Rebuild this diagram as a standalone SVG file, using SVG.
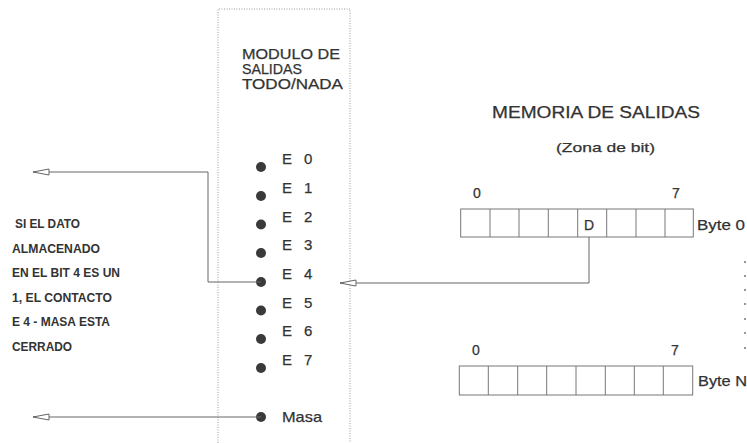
<svg xmlns="http://www.w3.org/2000/svg" width="747" height="443" viewBox="0 0 747 443">
<style>
text{font-family:"Liberation Sans",Arial,sans-serif;fill:#333;stroke:#333;stroke-width:0.25}
.note{font-size:12px;font-weight:bold;stroke:none}
.mod{font-size:14px}
.lbl{font-size:14px}
.e{font-size:15px}
.cell{fill:none;stroke:#777;stroke-width:1}
.wire{fill:none;stroke:#666;stroke-width:1}
.dot{fill:#3a3a3a}
</style>
<defs>
<marker id="arr" viewBox="0 0 18 8" refX="17" refY="4" markerWidth="18" markerHeight="8" markerUnits="userSpaceOnUse" orient="auto">
<path d="M1,1 L17,4 L1,7 Z" fill="#fff" stroke="#666" stroke-width="1"/>
</marker>
</defs>
<rect width="747" height="443" fill="#fff"/>

<g id="modulo">
<path d="M218,443 V9 H350 V443" fill="none" stroke="#999" stroke-width="1" stroke-dasharray="1,1.5"/>
<text class="mod" x="242" y="59" textLength="98" lengthAdjust="spacingAndGlyphs">MODULO  DE</text>
<text class="mod" x="242" y="74" textLength="60" lengthAdjust="spacingAndGlyphs">SALIDAS</text>
<text class="mod" x="242" y="89" textLength="101" lengthAdjust="spacingAndGlyphs">TODO/NADA</text>
</g>

<g id="salidas">
<circle class="dot" cx="261" cy="167" r="5"/><text class="e" x="282" y="164">E<tspan x="304">0</tspan></text>
<circle class="dot" cx="261" cy="196" r="5"/><text class="e" x="282" y="193">E<tspan x="304">1</tspan></text>
<circle class="dot" cx="261" cy="224.5" r="5"/><text class="e" x="282" y="221.5">E<tspan x="304">2</tspan></text>
<circle class="dot" cx="261" cy="253" r="5"/><text class="e" x="282" y="250">E<tspan x="304">3</tspan></text>
<circle class="dot" cx="261" cy="282" r="5"/><text class="e" x="282" y="279">E<tspan x="304">4</tspan></text>
<circle class="dot" cx="261" cy="310.5" r="5"/><text class="e" x="282" y="307.5">E<tspan x="304">5</tspan></text>
<circle class="dot" cx="261" cy="339" r="5"/><text class="e" x="282" y="336">E<tspan x="304">6</tspan></text>
<circle class="dot" cx="261" cy="368" r="5"/><text class="e" x="282" y="365">E<tspan x="304">7</tspan></text>
<circle class="dot" cx="261" cy="417" r="5"/><text class="e" x="282" y="422" textLength="40" lengthAdjust="spacingAndGlyphs">Masa</text>
</g>

<g id="nota">
<text class="note" x="15" y="228" textLength="65" lengthAdjust="spacingAndGlyphs">SI EL DATO</text>
<text class="note" x="12" y="252.5" textLength="88" lengthAdjust="spacingAndGlyphs">ALMACENADO</text>
<text class="note" x="12" y="277" textLength="108" lengthAdjust="spacingAndGlyphs">EN EL BIT 4 ES UN</text>
<text class="note" x="12" y="301.5" textLength="100" lengthAdjust="spacingAndGlyphs">1, EL CONTACTO</text>
<text class="note" x="12" y="326" textLength="98" lengthAdjust="spacingAndGlyphs">E 4 - MASA ESTA</text>
<text class="note" x="12" y="350.5" textLength="60" lengthAdjust="spacingAndGlyphs">CERRADO</text>
</g>

<g id="memoria">
<text x="492" y="118" font-size="16" textLength="208" lengthAdjust="spacingAndGlyphs">MEMORIA DE SALIDAS</text>
<text x="556" y="152" font-size="13" textLength="99" lengthAdjust="spacingAndGlyphs">(Zona de bit)</text>
</g>

<g id="byte0">
<text class="lbl" x="473" y="198">0</text>
<text class="lbl" x="672" y="198">7</text>
<rect class="cell" x="460.7" y="209" width="232.6" height="28"/>
<path class="cell" d="M490,209V237M519,209V237M548.3,209V237M577.7,209V237M606.7,209V237M636,209V237M665,209V237"/>
<text class="lbl" x="584" y="230">D</text>
<text class="lbl" x="697" y="230" textLength="48" lengthAdjust="spacingAndGlyphs">Byte 0</text>
</g>

<g id="byteN">
<text class="lbl" x="472" y="355">0</text>
<text class="lbl" x="671" y="355">7</text>
<rect class="cell" x="459.3" y="366" width="233.4" height="29"/>
<path class="cell" d="M488.3,366V395M517.7,366V395M546.7,366V395M576,366V395M605.3,366V395M634.3,366V395M663.3,366V395"/>
<text class="lbl" x="698" y="386" textLength="49" lengthAdjust="spacingAndGlyphs">Byte N</text>
</g>

<g id="continuacion" fill="#666">
<circle cx="745" cy="262" r="0.9"/>
<circle cx="745" cy="276" r="0.9"/>
<circle cx="745" cy="290" r="0.9"/>
<circle cx="745" cy="304" r="0.9"/>
<circle cx="745" cy="319" r="0.9"/>
<circle cx="745" cy="333" r="0.9"/>
<circle cx="745" cy="348" r="0.9"/>
</g>

<g id="conectores">
<path class="wire" d="M261,282 H208 V172 H33" marker-end="url(#arr)"/>
<path class="wire" d="M261,417 H33" marker-end="url(#arr)"/>
<path class="wire" d="M589,237 V283 H340" marker-end="url(#arr)"/>
</g>
</svg>
